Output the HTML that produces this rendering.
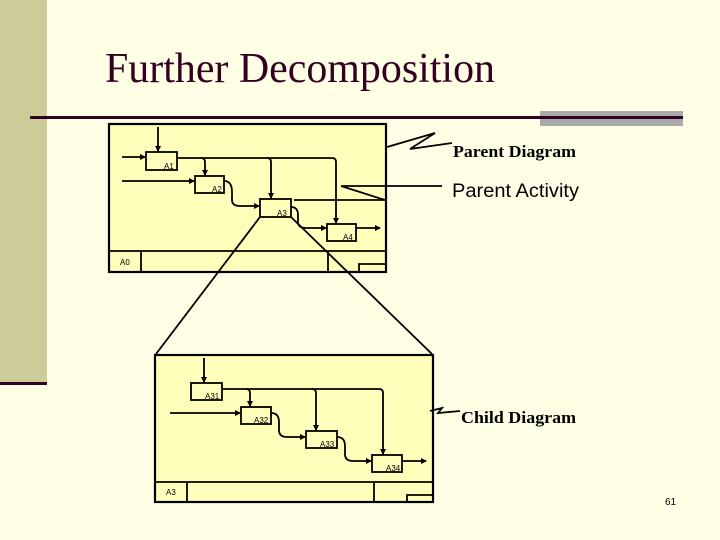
<!DOCTYPE html>
<html><head><style>
body{margin:0;width:720px;height:540px;background:#ffffe5;overflow:hidden}
</style></head><body>
<svg width="720" height="540" xmlns="http://www.w3.org/2000/svg" style="position:absolute;left:0;top:0">
<defs><marker id="a" markerWidth="6" markerHeight="6" refX="5" refY="3" orient="auto" markerUnits="userSpaceOnUse"><path d="M0,0L6,3L0,6z" fill="#000"/></marker></defs>
<rect x="0" y="0" width="47" height="384" fill="#cccc99"/>
<rect x="0" y="382" width="47" height="3" fill="#330022"/>
<rect x="540" y="111" width="143" height="15" fill="#aaaaaa"/>
<rect x="30" y="116" width="653" height="3" fill="#330022"/>
<text x="105" y="82" font-family="Liberation Serif, serif" font-size="42" fill="#330022" textLength="390" lengthAdjust="spacingAndGlyphs">Further Decomposition</text>

<g fill="none" stroke="#000" stroke-width="1.8" font-family="Liberation Sans, sans-serif">
<!-- parent -->
<rect x="109" y="124" width="277" height="148" fill="#ffffbb" stroke-width="2.2"/>
<line x1="109" y1="251" x2="386" y2="251"/>
<line x1="141" y1="251" x2="141" y2="272"/>
<line x1="328" y1="251" x2="328" y2="272"/>
<polyline points="359,272 359,264 386,264"/>
<rect x="146" y="152" width="31" height="18"/>
<rect x="195" y="176" width="29" height="17"/>
<rect x="260" y="199" width="31" height="18"/>
<rect x="327" y="224" width="29" height="17"/>
<line x1="158" y1="127" x2="158" y2="151" marker-end="url(#a)"/>
<line x1="122" y1="157" x2="145" y2="157" marker-end="url(#a)"/>
<line x1="122" y1="181" x2="194" y2="181" marker-end="url(#a)"/>
<path d="M177,158 H332 Q336,158 336,162 V223" marker-end="url(#a)"/>
<path d="M201,158 Q205,158 205,162 V175" marker-end="url(#a)"/>
<path d="M267,158 Q271,158 271,162 V198" marker-end="url(#a)"/>
<path d="M224,181 Q232,181 232,192 V200 Q232,206 240,206 H259" marker-end="url(#a)"/>
<path d="M291,207 Q298,207 298,215 V222 Q298,228 306,228 H326" marker-end="url(#a)"/>
<line x1="356" y1="228" x2="380" y2="228" marker-end="url(#a)"/>
<line x1="294" y1="200" x2="385" y2="200"/>
<polyline points="385,200 341,186 442,186"/>
<polyline points="387,147 435,133 410,149 452,143"/>
<line x1="260" y1="217" x2="156" y2="354"/>
<line x1="291" y1="217" x2="432" y2="354"/>
<!-- child -->
<rect x="155" y="355" width="278" height="147" fill="#ffffbb" stroke-width="2.2"/>
<line x1="155" y1="482" x2="433" y2="482"/>
<line x1="187" y1="482" x2="187" y2="502"/>
<line x1="374" y1="482" x2="374" y2="502"/>
<polyline points="407,502 407,495 433,495"/>
<rect x="191" y="383" width="31" height="17"/>
<rect x="241" y="407" width="30" height="17"/>
<rect x="306" y="431" width="31" height="17"/>
<rect x="372" y="455" width="30" height="17"/>
<line x1="204" y1="358" x2="204" y2="382" marker-end="url(#a)"/>
<line x1="170" y1="413" x2="240" y2="413" marker-end="url(#a)"/>
<path d="M222,389 H379 Q383,389 383,393 V454" marker-end="url(#a)"/>
<path d="M246,389 Q250,389 250,393 V406" marker-end="url(#a)"/>
<path d="M312,389 Q316,389 316,393 V430" marker-end="url(#a)"/>
<path d="M271,413 Q279,413 279,422 V430 Q279,437 287,437 H305" marker-end="url(#a)"/>
<path d="M337,437 Q345,437 345,446 V454 Q345,461 353,461 H371" marker-end="url(#a)"/>
<line x1="402" y1="461" x2="426" y2="461" marker-end="url(#a)"/>
<polyline points="430,411 442,408 438,413 460,411"/>
</g>
<g font-family="Liberation Sans, sans-serif" font-size="8" fill="#000">
<text x="164" y="169">A1</text><text x="212" y="192">A2</text><text x="277" y="216">A3</text><text x="343" y="240">A4</text>
<text x="120" y="265">A0</text>
<text x="205" y="399">A31</text><text x="254" y="423">A32</text><text x="320" y="447">A33</text><text x="386" y="471">A34</text>
<text x="166" y="495">A3</text>
<text x="665" y="505" font-size="10">61</text>
</g>
<text x="453" y="157" font-family="Liberation Serif, serif" font-weight="bold" font-size="17" textLength="123" lengthAdjust="spacingAndGlyphs">Parent Diagram</text>
<text x="452" y="197" font-family="Liberation Sans, sans-serif" font-size="19" textLength="127" lengthAdjust="spacingAndGlyphs">Parent Activity</text>
<text x="461" y="423" font-family="Liberation Serif, serif" font-weight="bold" font-size="17" textLength="115" lengthAdjust="spacingAndGlyphs">Child Diagram</text>
</svg>
</body></html>
